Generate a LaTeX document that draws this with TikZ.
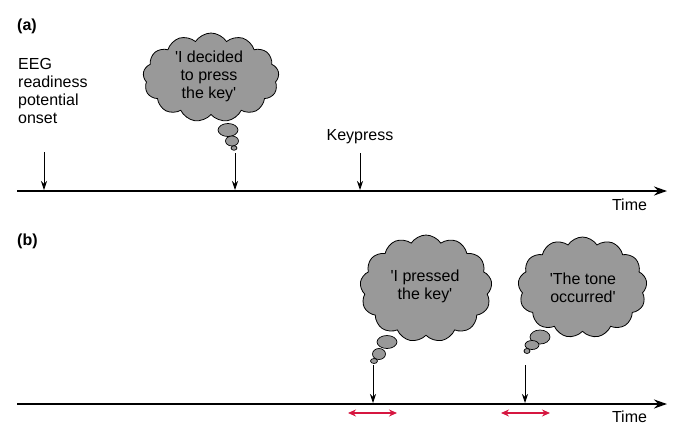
\documentclass[tikz,border=0pt]{standalone}
\usepackage{fontspec}
\setmainfont{Liberation Sans}
\usetikzlibrary{shapes.symbols,shapes.geometric,arrows.meta}
\definecolor{cloudgray}{RGB}{153,153,153}
\definecolor{spanred}{RGB}{214,22,64}
\newcommand{\sq}{\textquotesingle}
\begin{document}
\begin{tikzpicture}[x=1pt,y=-1pt,
  lbl/.style={font=\fontsize{16}{18}\selectfont, inner sep=0pt},
  panel/.style={font=\fontsize{16}{18}\selectfont\bfseries, inner sep=0pt},
  thought/.style={cloud, cloud puffs=13, cloud puff arc=115, draw=black, line width=0.8pt, fill=cloudgray, inner sep=0pt},
  bubble/.style={ellipse, draw=black, line width=0.7pt, fill=cloudgray, inner sep=0pt},
  axisline/.style={line width=2.4pt, -{Stealth[length=13pt,width=9pt]}},
  tickarrow/.style={line width=0.8pt, -{Stealth[length=9pt,width=6pt]}},
  spanarrow/.style={draw=spanred, line width=1.6pt, {Stealth[length=8pt,width=7pt]}-{Stealth[length=8pt,width=7pt]}},
]
\useasboundingbox (0,0) rectangle (689,437);

% ---------- panel (a) ----------
\node[panel, anchor=base west] (pa) at (17,30) {(a)};
\node[lbl, anchor=north west, align=left] (eeg) at (18,58.5) {EEG\\readiness\\potential\\onset};
\node[lbl, anchor=base] (keypress) at (360,140) {Keypress};
\node[lbl, anchor=base] (timea) at (629.5,210) {Time};

\coordinate (axAs) at (17,191);
\coordinate (axAe) at (667,191);
\draw[axisline] (axAs) -- (axAe);

\node[thought, minimum width=136pt, minimum height=89pt] (cloudA) at (211,77.5) {};
\node[lbl, align=center] (cloudAtext) at (209,76) {\sq I decided\\to press\\the key\sq};
\node[bubble, minimum width=20pt, minimum height=13pt] (bA1) at (228,130) {};
\node[bubble, minimum width=13pt, minimum height=10pt] (bA2) at (232,141) {};
\node[bubble, minimum width=6pt, minimum height=4.5pt] (bA3) at (234,148) {};

\coordinate (t1s) at (44,152);  \coordinate (t1e) at (44,190);
\coordinate (t2s) at (235,153); \coordinate (t2e) at (235,190);
\coordinate (t3s) at (360,153); \coordinate (t3e) at (360,190);
\draw[tickarrow] (t1s) -- (t1e);
\draw[tickarrow] (t2s) -- (t2e);
\draw[tickarrow] (t3s) -- (t3e);

% ---------- panel (b) ----------
\node[panel, anchor=base west] (pb) at (17,245) {(b)};
\node[lbl, anchor=base] (timeb) at (629.5,422) {Time};

\coordinate (axBs) at (17,404);
\coordinate (axBe) at (667,404);
\draw[axisline] (axBs) -- (axBe);

\node[thought, minimum width=132pt, minimum height=107pt] (cloudB) at (426,288.5) {};
\node[lbl, align=center] (cloudBtext) at (425,286) {\sq I pressed\\the key\sq};
\node[bubble, minimum width=20pt, minimum height=13pt] (bB1) at (387,342) {};
\node[bubble, minimum width=13pt, minimum height=11pt] (bB2) at (379,354) {};
\node[bubble, minimum width=7pt, minimum height=5pt] (bB3) at (374,361) {};

\node[thought, minimum width=129pt, minimum height=101pt] (cloudC) at (582.5,287.5) {};
\node[lbl, align=center] (cloudCtext) at (583,288) {\sq The tone\\occurred\sq};
\node[bubble, minimum width=20pt, minimum height=14pt] (bC1) at (540,337) {};
\node[bubble, minimum width=14pt, minimum height=9pt] (bC2) at (532,345) {};
\node[bubble, minimum width=6pt, minimum height=5pt] (bC3) at (527,351) {};

\coordinate (t4s) at (373,365); \coordinate (t4e) at (373,403);
\coordinate (t5s) at (525,365); \coordinate (t5e) at (525,403);
\draw[tickarrow] (t4s) -- (t4e);
\draw[tickarrow] (t5s) -- (t5e);

\coordinate (s1a) at (348,413); \coordinate (s1b) at (397,413);
\coordinate (s2a) at (501,413); \coordinate (s2b) at (550,413);
\draw[spanarrow] (s1a) -- (s1b);
\draw[spanarrow] (s2a) -- (s2b);
\end{tikzpicture}
\end{document}
